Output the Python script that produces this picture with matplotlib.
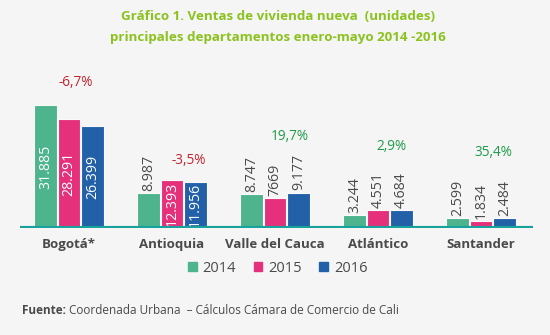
import matplotlib
matplotlib.use("Agg")
import matplotlib.pyplot as plt
import numpy as np

categories = ["Bogotá*", "Antioquia", "Valle del Cauca", "Atlántico", "Santander"]
years = ["2014", "2015", "2016"]
v2014 = [31885, 8987, 8747, 3244, 2599]
v2015 = [28291, 12393, 7669, 4551, 1834]
v2016 = [26399, 11956, 9177, 4684, 2484]
labels2014 = ["31.885", "8.987", "8.747", "3.244", "2.599"]
labels2015 = ["28.291", "12.393", "7669", "4.551", "1.834"]
labels2016 = ["26.399", "11.956", "9.177", "4.684", "2.484"]
changes = ["-6,7%", "-3,5%", "19,7%", "2,9%", "35,4%"]

colors = ["#4DB48D", "#E5317B", "#2261A8"]
bg = "#F5F5F5"
red = "#C3232F"
grn = "#1E9A48"
dark = "#4A4A4A"

plt.rcParams['font.family'] = ['Open Sans', 'DejaVu Sans']

fig = plt.figure(figsize=(5.5, 3.35), dpi=100, facecolor=bg)
# axis area: x px 20..533, baseline y=228, top y=60
ax = fig.add_axes([20/550, (335-228)/335, (533-20)/550, (228-60)/335])
ax.set_facecolor(bg)
scale = 259.0  # units per pixel
ax.set_ylim(0, (228-60)*scale)
ax.set_xlim((20-69)/103, (533-69)/103)

x = np.arange(len(categories))
w = 0.215
step = 0.228
series = [v2014, v2015, v2016]
labs = [labels2014, labels2015, labels2016]
for k in range(3):
    xs = x + (k-1)*step
    ax.bar(xs, series[k], width=w, color=colors[k], edgecolor="#FAFAFA", linewidth=0.8, zorder=2)
    for i in range(len(categories)):
        v = series[k][i]
        if v > 11000:
            ax.text(xs[i], v/2, labs[k][i], rotation=90, ha="center", va="center",
                    color="white", fontsize=10.2, zorder=3)
        else:
            ax.text(xs[i], v + 600, labs[k][i], rotation=90, ha="center", va="bottom",
                    color=dark, fontsize=10.2, zorder=3)

# change annotations (pixel positions of the reference converted to data coords)
ann_px = [(76, 83), (189, 160), (290, 136), (391, 147), (493, 153)]
for (px, py), t in zip(ann_px, changes):
    c = red if t.startswith("-") else grn
    ax.text((px-69)/103, (228-py)*scale, t, ha="center", va="center", color=c, fontsize=9.8)

ax.axhline(0, color="#17A39B", linewidth=3, zorder=4)
for s in ax.spines.values():
    s.set_visible(False)
ax.set_yticks([])
ax.set_xticks(x)
ax.set_xticklabels(categories, fontsize=9.5, fontweight="bold", color=dark)
ax.tick_params(axis="x", length=0, pad=7)

# title
fig.text(0.505, 1-17/335, "Gráfico 1. Ventas de vivienda nueva  (unidades)", ha="center", va="center",
         color="#8CC21F", fontsize=9.6, fontweight="bold")
fig.text(0.505, 1-38/335, "principales departamentos enero-mayo 2014 -2016", ha="center", va="center",
         color="#8CC21F", fontsize=9.6, fontweight="bold")

# legend
handles = [plt.Rectangle((0, 0), 1, 1, color=c) for c in colors]
leg = fig.legend(handles, years, loc="center", bbox_to_anchor=(0.505, 1-268/335), ncol=3,
                 frameon=False, fontsize=10.5, handlelength=0.6, handleheight=0.6,
                 handletextpad=0.4, columnspacing=1.2, labelcolor=dark)

# source
t1 = fig.text(22/550, 1-311/335, "Fuente:", ha="left", va="center", color=dark, fontsize=8.5, fontweight="bold")
fig.canvas.draw()
bb = t1.get_window_extent()
fig.text((bb.x1 + 3)/550, 1-311/335, "Coordenada Urbana  – Cálculos Cámara de Comercio de Cali",
         ha="left", va="center", color=dark, fontsize=8.5)

fig.savefig("out.png", dpi=100, facecolor=bg)
